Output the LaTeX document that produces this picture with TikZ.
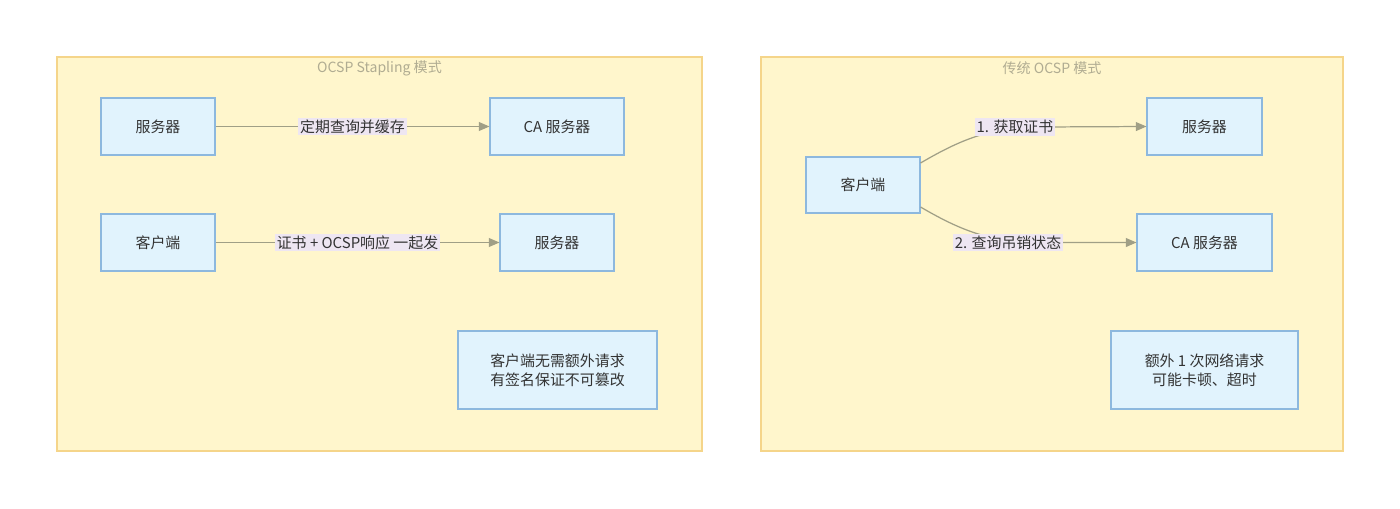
\documentclass[tikz,border=0pt]{standalone}
\usepackage{fontspec}
\setmainfont{Noto Sans CJK SC}
\usetikzlibrary{arrows.meta}
\definecolor{clusterfill}{HTML}{FFF6CC}
\definecolor{clusterline}{HTML}{F5D58A}
\definecolor{boxfill}{HTML}{E1F3FD}
\definecolor{boxline}{HTML}{8DB8DE}
\definecolor{edgecol}{HTML}{A09F86}
\definecolor{labelbg}{HTML}{EEE6F2}
\definecolor{titlecol}{HTML}{B0AC92}
\definecolor{textcol}{HTML}{333333}
\tikzset{
  cluster/.style={draw=clusterline, fill=clusterfill, line width=0.6pt},
  box/.style={draw=boxline, fill=boxfill, line width=0.6pt, text=textcol, font=\fontsize{8.5}{11}\selectfont, align=center, inner sep=0pt},
  link/.style={draw=edgecol, line width=0.7pt, -{Triangle[length=6pt,width=5pt]}},
  lbl/.style={fill=labelbg, text=textcol, font=\fontsize{8.5}{10}\selectfont, inner sep=1pt},
  ttl/.style={text=titlecol, font=\fontsize{8}{10}\selectfont}
}
\begin{document}
\begin{tikzpicture}[x=0.02cm, y=-0.02cm]
    \useasboundingbox (0,0) rectangle (1400,508);

    % clusters
    \draw[cluster] (57,57) rectangle (702,451);
    \draw[cluster] (761,57) rectangle (1343,451);
    \node[ttl] (ttlA) at (379.5,68) {OCSP Stapling 模式};
    \node[ttl] (ttlB) at (1052,68) {传统 OCSP 模式};

    % stapling
    \node[box, minimum width=114*0.02cm, minimum height=57*0.02cm] (srvA) at (158,126.5) {服务器};
    \node[box, minimum width=134*0.02cm, minimum height=57*0.02cm] (caA) at (557,126.5) {CA 服务器};
    \node[box, minimum width=114*0.02cm, minimum height=57*0.02cm] (cliA) at (158,242.5) {客户端};
    \node[box, minimum width=114*0.02cm, minimum height=57*0.02cm] (srvA2) at (557,242.5) {服务器};
    \node[box, minimum width=199*0.02cm, minimum height=78*0.02cm] (noteA) at (557.5,370) {客户端无需额外请求\\有签名保证不可篡改};

    \draw[link] (srvA) -- node[lbl]{定期查询并缓存} (caA);
    \draw[link] (cliA) -- node[lbl]{证书 + OCSP响应 一起发} (srvA2);

    % traditional
    \node[box, minimum width=114*0.02cm, minimum height=56*0.02cm] (cliB) at (863,185) {客户端};
    \node[box, minimum width=115*0.02cm, minimum height=57*0.02cm] (srvB) at (1204.5,126.5) {服务器};
    \node[box, minimum width=135*0.02cm, minimum height=57*0.02cm] (caB) at (1204.5,242.5) {CA 服务器};
    \node[box, minimum width=187*0.02cm, minimum height=78*0.02cm] (noteB) at (1204.5,370) {额外 1 次网络请求\\可能卡顿、超时};

    \draw[link] (cliB.east |- 0,163) .. controls (960,140) and (990,127) .. (1040,127) -- (srvB.west);
    \draw[link] (cliB.east |- 0,207) .. controls (960,230) and (990,242.5) .. (1040,242.5) -- (caB.west);
    \node[lbl] (l1) at (1015,127) {1. 获取证书};
    \node[lbl] (l2) at (1008,242.5) {2. 查询吊销状态};
\end{tikzpicture}
\end{document}
